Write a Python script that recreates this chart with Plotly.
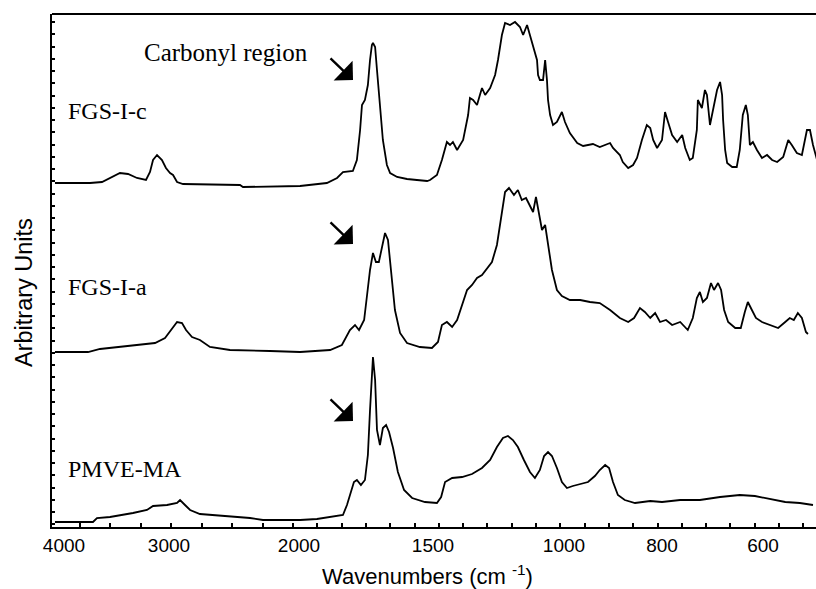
import numpy as np
import plotly.graph_objects as go

# ---------------- axis definition (non-linear wavenumber axis of the original) -------------
TICK_WN = [4000, 3000, 2000, 1500, 1000, 800, 600]
TICK_TEXT = ["4000", "3000", "2000", "1500", "1000", "800", "600"]
# horizontal position of each labelled wavenumber on the original axis
AXIS_WN = [4200, 4000, 3000, 2000, 1500, 1000, 800, 600, 400]
AXIS_POS = [43, 64, 169, 299, 433, 564, 662, 763, 864]


def pos(wn):
    wn = np.asarray(wn, dtype=float)
    return np.interp(-wn, -np.array(AXIS_WN, float), np.array(AXIS_POS, float))


# ---------------- data: wavenumber (cm-1) and arbitrary intensity ----------------
fgs_c_wn = [4086, 3752, 3638, 3562, 3467, 3390, 3305, 3219, 3181, 3152, 3114, 3067, 3029, 2992, 2969,
            2938, 2892, 2454, 2431, 1996, 1896, 1858, 1836, 1799, 1784, 1772, 1765, 1754, 1743, 1735,
            1728, 1724, 1716, 1709, 1698, 1687, 1672, 1660, 1634, 1597, 1560, 1522, 1511, 1485, 1466,
            1447, 1435, 1424, 1408, 1385, 1366, 1359, 1347, 1332, 1321, 1313, 1301, 1282, 1263, 1252,
            1237, 1225, 1206, 1187, 1168, 1156, 1141, 1130, 1118, 1103, 1099, 1092, 1080, 1072, 1065,
            1061, 1053, 1042, 1027, 1015, 1008, 998, 988, 973, 961, 941, 927, 906, 900, 886,
            880, 869, 859, 851, 841, 831, 824, 818, 810, 800, 794, 788, 780, 770, 760,
            754, 745, 739, 731, 729, 721, 715, 711, 705, 699, 691, 685, 681, 679, 675,
            671, 661, 652, 646, 640, 634, 630, 626, 620, 612, 602, 592, 582, 572, 560,
            550, 543, 533, 523, 513, 507, 501, 493]
fgs_c_int = [344, 344, 345, 349, 354, 353, 349, 347, 355, 367, 372, 367, 359, 354, 352,
             345, 343, 342, 340, 341, 344, 349, 355, 356, 367, 397, 422, 427, 442, 467,
             482, 484, 480, 457, 417, 387, 362, 354, 350, 348, 347, 346, 347, 352, 367,
             385, 382, 385, 377, 387, 412, 429, 427, 422, 432, 439, 432, 439, 452, 467,
             492, 504, 502, 505, 500, 492, 502, 492, 482, 467, 452, 447, 447, 467, 447,
             427, 412, 402, 405, 412, 415, 405, 394, 384, 381, 383, 380, 384, 379, 372,
             365, 359, 362, 369, 387, 402, 399, 387, 379, 387, 415, 405, 392, 385, 392,
             379, 367, 369, 397, 427, 419, 437, 432, 402, 417, 437, 445, 432, 407, 377,
             364, 360, 360, 377, 412, 422, 412, 382, 385, 377, 369, 372, 367, 365, 370,
             387, 382, 374, 372, 397, 397, 382, 367]

fgs_a_wn = [4086, 3771, 3657, 3371, 3133, 3038, 2977, 2938, 2900, 2869, 2823, 2762, 2685, 2531, 2223,
            1996, 1884, 1840, 1810, 1791, 1776, 1757, 1746, 1735, 1724, 1713, 1702, 1690, 1679, 1668,
            1657, 1642, 1623, 1597, 1549, 1504, 1481, 1466, 1447, 1427, 1408, 1389, 1370, 1351, 1332,
            1313, 1294, 1275, 1256, 1237, 1225, 1210, 1191, 1176, 1161, 1145, 1130, 1118, 1107, 1095,
            1084, 1072, 1061, 1046, 1027, 1008, 988, 967, 947, 927, 906, 886, 869, 857, 845,
            835, 824, 814, 804, 792, 780, 764, 749, 739, 731, 725, 719, 711, 703, 697,
            689, 683, 677, 669, 655, 644, 636, 630, 622, 614, 602, 586, 570, 556, 547,
            539, 531, 523, 515, 511]
fgs_a_int = [175, 175, 178, 181, 184, 189, 199, 205, 204, 197, 190, 187, 180, 177, 176,
             175, 177, 182, 197, 202, 197, 207, 232, 257, 274, 265, 265, 282, 294, 287,
             257, 217, 194, 184, 180, 179, 185, 202, 205, 200, 207, 222, 237, 242, 249,
             252, 259, 265, 282, 312, 335, 339, 332, 337, 327, 329, 322, 315, 330, 312,
             297, 302, 282, 257, 237, 231, 227, 227, 225, 224, 217, 209, 205, 209, 219,
             215, 209, 214, 205, 207, 202, 205, 197, 209, 229, 235, 225, 229, 244, 237,
             244, 237, 217, 205, 199, 199, 215, 225, 217, 209, 205, 202, 199, 205, 209,
             207, 214, 209, 195, 193]

pmve_wn = [4086, 3724, 3686, 3562, 3343, 3210, 3152, 3019, 2938, 2915, 2877, 2838, 2762, 2662, 2508,
           2377, 2277, 1996, 1933, 1836, 1821, 1810, 1795, 1784, 1769, 1754, 1743, 1735, 1728, 1724,
           1716, 1709, 1698, 1687, 1675, 1664, 1649, 1631, 1608, 1578, 1530, 1485, 1469, 1454, 1427,
           1389, 1351, 1313, 1282, 1256, 1233, 1214, 1195, 1176, 1153, 1130, 1111, 1092, 1076, 1061,
           1046, 1027, 1008, 994, 982, 967, 951, 937, 927, 916, 908, 900, 890, 876, 855,
           824, 800, 764, 725, 685, 646, 616, 586, 556, 527, 501]
pmve_int = [5, 5, 9, 10, 14, 17, 21, 22, 24, 27, 22, 17, 13, 12, 11,
            9, 7, 7, 8, 12, 22, 32, 45, 47, 42, 47, 72, 117, 162, 170,
            147, 97, 82, 99, 102, 95, 79, 55, 37, 29, 25, 24, 30, 45, 49,
            50, 53, 59, 67, 80, 89, 91, 87, 80, 67, 55, 49, 57, 71, 75,
            71, 59, 45, 39, 41, 43, 45, 51, 57, 62, 59, 45, 32, 27, 24,
            26, 25, 27, 27, 30, 32, 31, 28, 25, 24, 22]

SAMPLE_LABELS = ["FGS-I-c", "FGS-I-a", "PMVE-MA"]
LABEL_Y = [416, 240, 58]
ARROW_TIP_Y = [447, 283, 106]

# ---------------- figure ----------------
fig = go.Figure()
for wn, inten in [(fgs_c_wn, fgs_c_int), (fgs_a_wn, fgs_a_int), (pmve_wn, pmve_int)]:
    fig.add_trace(go.Scatter(x=pos(wn), y=inten, mode="lines",
                             line=dict(color="black", width=1.8), showlegend=False,
                             hoverinfo="skip"))

minor_x = list(np.arange(80, 295, 30.45)) + list(293 + 24.3 * np.arange(1, 22))

serif = "Liberation Serif, Times New Roman, serif"
sans = "Liberation Sans, Arial, sans-serif"

X0, X1, YTOP, YBOT = 52, 816, 14, 527  # plot-area edges in the 816x589 picture
PW, PH = X1 - X0, YBOT - YTOP

fig.update_layout(
    width=816, height=589,
    margin=dict(l=X0, r=816 - X1, t=YTOP, b=589 - YBOT),
    paper_bgcolor="white", plot_bgcolor="white",
    xaxis=dict(range=[X0, X1], showgrid=False, zeroline=False,
               showline=True, linecolor="black", linewidth=2,
               tickmode="array", tickvals=pos(TICK_WN), ticktext=TICK_TEXT,
               ticks="inside", ticklen=4, tickcolor="rgba(0,0,0,0)",
               tickfont=dict(family=sans, size=19, color="black"),
               minor=dict(tickmode="array", tickvals=minor_x, ticks="inside",
                          ticklen=4, tickwidth=1.5, tickcolor="black")),
    yaxis=dict(range=[0, PH], showgrid=False, zeroline=False,
               showline=True, linecolor="black", linewidth=2,
               tickmode="linear", tick0=15, dtick=12.25, ticks="inside",
               ticklen=3, tickwidth=1.5, tickcolor="black", showticklabels=False),
    shapes=[dict(type="line", xref="paper", yref="paper", x0=0, x1=1, y0=1, y1=1,
                 line=dict(color="black", width=2))],
)

ann = []
ann.append(dict(text="Carbonyl region", x=226, y=475, xref="x", yref="y",
                showarrow=False, font=dict(family=serif, size=25, color="black")))
for lab, ly in zip(SAMPLE_LABELS, LABEL_Y):
    ann.append(dict(text=lab, x=66, y=ly, xref="x", yref="y", xanchor="left",
                    showarrow=False, font=dict(family=serif, size=24, color="black")))
for ty in ARROW_TIP_Y:
    ann.append(dict(text="", x=353, y=ty, xref="x", yref="y", ax=-24, ay=-23,
                    showarrow=True, arrowhead=1, arrowsize=1.9, arrowwidth=2.4,
                    arrowcolor="black"))
ann.append(dict(text="Wavenumbers (cm <sup>-1</sup>)", x=(427 - X0) / PW, y=(YBOT - 575) / PH,
                xref="paper", yref="paper", xanchor="center", yanchor="middle",
                showarrow=False, borderpad=0, font=dict(family=sans, size=22, color="black")))
ann.append(dict(text="Arbitrary Units", x=(24 - X0) / PW, y=(YBOT - 293) / PH,
                xref="paper", yref="paper", xanchor="center", yanchor="middle",
                textangle=-90, showarrow=False, font=dict(family=sans, size=23.5, color="black")))
fig.update_layout(annotations=ann)

fig.write_html("out.html")
